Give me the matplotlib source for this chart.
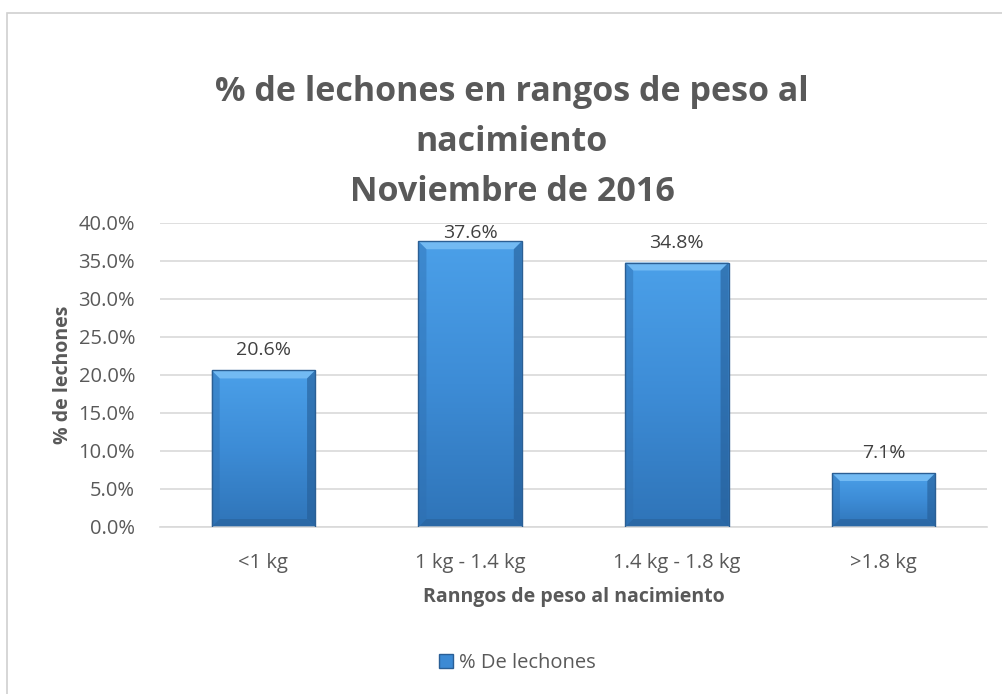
#!/usr/bin/env python3

import numpy as np
import matplotlib
matplotlib.use("Agg")
import matplotlib.pyplot as plt
import matplotlib.patches as mpatches
from matplotlib.colors import LinearSegmentedColormap
from matplotlib.legend_handler import HandlerPatch

categories = ["<1 kg", "1 kg - 1.4 kg", "1.4 kg - 1.8 kg", ">1.8 kg"]
pct_lechones = [20.6, 37.6, 34.8, 7.1]
y_ticks = [0, 5, 10, 15, 20, 25, 30, 35, 40]

TITLE = "% de lechones en rangos de peso al\nnacimiento\nNoviembre de 2016"
XLABEL = "Ranngos de peso al nacimiento"
YLABEL = "% de lechones"
LEGEND = "% De lechones"

GREY = "#595959"
GRID = "#D9D9D9"
BAR_W = 0.5

plt.rcParams["font.family"] = ["Open Sans", "DejaVu Sans"]

fig = plt.figure(figsize=(10.02, 6.94), dpi=100)
fig.patch.set_facecolor("white")

# chart border like Excel chart area
fig.add_artist(mpatches.Rectangle((7 / 1002, -0.01), 1.0, 1 - 13 / 694 + 0.01,
                                  transform=fig.transFigure, fill=False,
                                  edgecolor="#D0D0D0", lw=1.2))

AX_W, AX_H = 827, 304
ax = fig.add_axes([160 / 1002, 1 - 527 / 694, AX_W / 1002, AX_H / 694])
x = np.arange(len(categories))
ax.set_xlim(-0.5, len(categories) - 0.5)
ax.set_ylim(0, 40)

# gradient body of each bar (light at top, darker at bottom)
body = LinearSegmentedColormap.from_list("body", ["#2F74B8", "#3D8CD6", "#4BA0E9"])
grad = np.linspace(0, 1, 256).reshape(-1, 1)

# one pixel in data units
px_x = len(categories) / AX_W
px_y = 40 / AX_H
bev = 8

bars = ax.bar(x, pct_lechones, width=BAR_W, color="none", edgecolor="#2B5F94",
              lw=1.0, zorder=3)
for b, v in zip(bars, pct_lechones):
    x0, w, h = b.get_x(), b.get_width(), b.get_height()
    im = ax.imshow(grad, cmap=body, extent=[x0, x0 + w, 0, h], origin="lower",
                   aspect="auto", zorder=2)
    im.set_clip_path(b)
    bx, by = bev * px_x, bev * px_y
    # top bevel, light
    ax.add_patch(mpatches.Polygon([[x0, h], [x0 + w, h], [x0 + w - bx, h - by],
                                   [x0 + bx, h - by]], closed=True,
                                  facecolor="#72BAF3", edgecolor="none", zorder=2.5))
    # side bevels, a bit darker
    ax.add_patch(mpatches.Polygon([[x0, h], [x0 + bx, h - by], [x0 + bx, by], [x0, 0]],
                                  closed=True, facecolor="#2E6FB0", edgecolor="none",
                                  alpha=0.45, zorder=2.5))
    ax.add_patch(mpatches.Polygon([[x0 + w, h], [x0 + w - bx, h - by], [x0 + w - bx, by],
                                   [x0 + w, 0]], closed=True, facecolor="#255D96",
                                  edgecolor="none", alpha=0.6, zorder=2.5))
    # bottom bevel
    ax.add_patch(mpatches.Polygon([[x0, 0], [x0 + w, 0], [x0 + w - bx, by], [x0 + bx, by]],
                                  closed=True, facecolor="#2A649E", edgecolor="none",
                                  alpha=0.7, zorder=2.5))
    # label above the bar, kept inside the plot area like Excel does
    ly = min(h + 11 * px_y, 40 - 19 * px_y)
    ax.text(x0 + w / 2, ly, f"{v:.1f}%", ha="center", va="bottom",
            fontsize=14, color="#404040", zorder=5)

ax.set_yticks(y_ticks)
ax.set_yticklabels([f"{t:.1f}%" for t in y_ticks])
ax.set_xticks(x)
ax.set_xticklabels(categories)
ax.yaxis.grid(True, color=GRID, lw=1.2, zorder=0)
ax.set_axisbelow(True)
for s in ["top", "right", "left"]:
    ax.spines[s].set_visible(False)
ax.spines["bottom"].set_color(GRID)
ax.spines["bottom"].set_linewidth(1.2)
ax.tick_params(axis="both", length=0, labelsize=14.5, colors=GREY)
ax.tick_params(axis="y", pad=18)
ax.tick_params(axis="x", pad=19)

ax.set_xlabel(XLABEL, fontsize=14, fontweight="bold", color=GREY, labelpad=10)
ax.set_ylabel(YLABEL, fontsize=14, fontweight="bold", color=GREY, labelpad=4)

fig.text(512 / 1002, 1 - 142 / 694, TITLE, ha="center", va="center",
         fontsize=24.5, fontweight="bold", color=GREY, linespacing=1.62)


class SquareHandler(HandlerPatch):
    def create_artists(self, legend, orig_handle, xdescent, ydescent, width,
                       height, fontsize, trans):
        s = height * 0.95
        p = mpatches.Rectangle((width - s, (height - s) / 2 - ydescent), s, s,
                               facecolor="#3C8AD4", edgecolor="#2A5F96", lw=1,
                               transform=trans)
        return [p]


handle = mpatches.Patch(facecolor="#3C8AD4", edgecolor="#2A5F96", label=LEGEND)
fig.legend(handles=[handle], loc="center", bbox_to_anchor=(516 / 1002, 1 - 663 / 694),
           frameon=False, fontsize=14.5, labelcolor=GREY, handlelength=0.8,
           handletextpad=0.3, handler_map={mpatches.Patch: SquareHandler()})

fig.savefig("out.png", dpi=100, facecolor="white")
